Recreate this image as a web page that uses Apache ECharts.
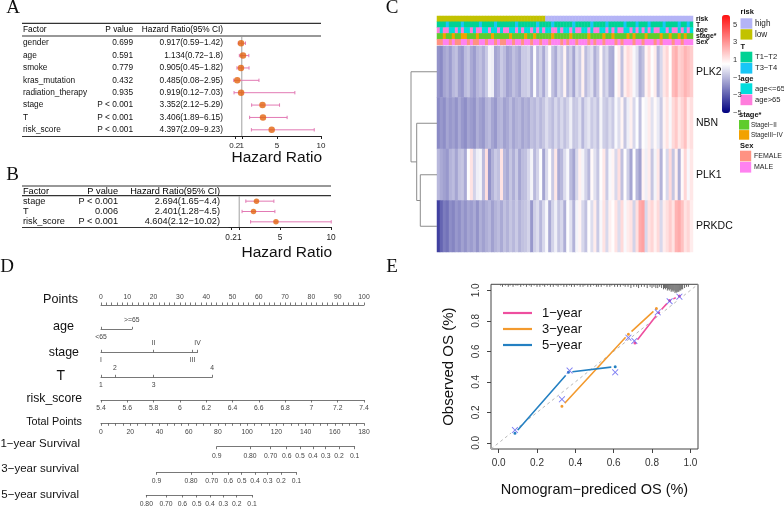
<!DOCTYPE html>
<html><head><meta charset="utf-8">
<script src="https://cdn.jsdelivr.net/npm/echarts@6.0.0/dist/echarts.min.js"></script>
<style>html,body{margin:0;padding:0;background:#fff;}#chart{width:784px;height:506px;}</style>
</head><body><div id="chart"></div>
<script>
const FONT = '"Liberation Sans", Arial, Helvetica, sans-serif';
const SERIF = '"Liberation Serif", "Times New Roman", serif';
const TXT = '#111';

// ================= DATA =================
// Panel A : univariate Cox
const factorsA = ['gender','age','smoke','kras_mutation','radiation_therapy','stage','T','risk_score'];
const pValA = ['0.699','0.591','0.779','0.432','0.935','P < 0.001','P < 0.001','P < 0.001'];
const hrA = [0.917,1.134,0.905,0.485,0.919,3.352,3.406,4.397];
const lowA = [0.59,0.72,0.45,0.08,0.12,2.12,1.89,2.09];
const highA = [1.42,1.8,1.82,2.95,7.03,5.29,6.15,9.23];
const hrTextA = ['0.917(0.59−1.42)','1.134(0.72−1.8)','0.905(0.45−1.82)','0.485(0.08−2.95)','0.919(0.12−7.03)','3.352(2.12−5.29)','3.406(1.89−6.15)','4.397(2.09−9.23)'];
// Panel B : multivariate Cox
const factorsB = ['stage','T','risk_score'];
const pValB = ['P < 0.001','0.006','P < 0.001'];
const hrB = [2.694,2.401,4.604];
const lowB = [1.65,1.28,2.12];
const highB = [4.4,4.5,10.02];
const hrTextB = ['2.694(1.65−4.4)','2.401(1.28−4.5)','4.604(2.12−10.02)'];
const hrTicks = [0.2,1,5,10];
const hrRef = 1;
const tableHeader = ['Factor','P value','Hazard Ratio(95% CI)'];

// Panel C : heatmap (columns = sample groups, left to right)
const genes = ['PLK2','NBN','PLK1','PRKDC'];
const exprPLK2 = [-1.8,-2.0,-1.4,-1.2,-1.6,-1.0,-0.8,-1.5,-1.7,-0.9,-0.7,-1.3,-1.6,-1.0,-0.8,-1.2,-0.6,0.3,0.2,-1.4,-1.2,-0.6,-0.9,-1.5,-1.3,-0.8,-1.1,-1.4,-0.6,
  -0.6,-0.4,-1.2,0.5,-1.0,-0.5,-1.3,-0.3,0.6,-0.8,-1.3,-0.3,-0.6,0.8,-1.0,-0.5,-1.4,-0.2,-0.6,0.9,-0.9,-0.4,-0.1,-1.2,-0.6,0.7,-0.7,-0.3,-1.2,
  -1.3,0.6,1.0,-0.8,0.9,1.4,1.1,0.4,-0.1,-1.2,-0.8,0.8,1.3,0.5,1.0,-1.0,-0.3,1.1,1.5,0.6,2.1,2.4,1.6,1.8,2.3,2.0,1.7];
const exprNBN = [-2.0,-1.7,-1.9,-1.4,-1.7,-1.5,-1.8,-1.3,-1.7,-1.9,-1.4,-1.6,-1.8,-1.2,-1.5,-1.7,-1.1,-0.9,-1.4,-1.7,-1.1,-1.0,-1.5,-1.3,-0.9,-1.4,-1.1,-1.0,-1.4,
  -1.1,-1.3,-0.8,-1.0,-0.6,-1.0,-0.7,-0.2,-0.6,-0.9,-0.3,-0.8,-0.3,-0.8,-0.4,0.2,-0.7,-0.6,-0.1,-1.0,-0.3,0.0,-0.6,-0.3,-0.8,0.3,-0.5,-0.7,-0.2,
  -0.6,0.4,-0.2,0.8,-0.7,0.2,0.9,-0.3,0.5,-0.8,0.6,0.3,1.0,-0.1,0.7,0.1,-0.6,0.8,1.2,0.4,1.4,1.8,1.1,1.5,2.0,1.0,1.3];
const exprPLK1 = [-1.0,-1.3,-1.5,-1.7,-1.1,-0.9,-1.4,-0.8,-0.7,-1.3,0.5,1.2,-0.4,0.2,0.3,-0.9,1.3,-1.8,-1.1,-0.6,-0.8,1.2,-1.0,-1.3,-0.7,-1.2,-0.6,-1.4,-0.9,
  -0.8,-0.3,0.3,-1.0,-0.4,0.5,-1.4,-0.3,0.6,-0.6,1.1,-1.3,-1.0,-0.2,0.4,-0.9,-1.4,-0.3,0.9,0.3,-0.4,-1.0,0.7,-0.1,-0.7,0.5,1.1,-0.6,0.4,
  0.8,-0.3,1.3,-0.8,0.6,-0.5,-1.4,0.5,-1.0,-1.5,0.8,0.2,1.0,-0.7,0.3,1.1,-1.1,0.6,-0.3,1.4,-0.7,0.9,-1.2,0.7,1.5,0.4,1.1];
const exprPRKDC = [-3.6,-2.8,-2.3,-2.5,-1.9,-2.1,-1.7,-1.9,-1.5,-1.8,-1.4,-1.6,-1.3,-1.8,-1.2,-1.5,-1.2,-1.0,-1.5,-1.1,-0.9,-1.3,-0.8,-1.1,-0.7,-1.0,-0.6,-1.1,-0.8,
  -0.7,-0.4,-1.7,-0.5,-0.2,-1.0,-0.3,0.4,-1.3,-0.4,0.2,-0.7,-0.3,-1.2,0.5,-0.1,-1.1,0.3,0.8,-0.3,-0.8,0.6,-0.2,1.0,-0.6,0.4,1.2,-0.3,0.9,
  0.6,1.2,-0.2,1.4,0.4,1.0,1.2,-0.4,1.3,2.5,2.7,-0.3,1.2,1.5,0.9,1.4,-0.3,1.0,1.3,1.7,1.2,2.3,2.5,2.0,1.2,1.5,1.0];
// annotation tracks (codes index into the level arrays)
const annoTracks = ['risk','T','age','stage*','Sex'];
const riskLevels = ['high','low'];
const tLevels = ['T1−T2','T3−T4'];
const ageLevels = ['age<=65','age>65'];
const stageLevels = ['StageI−II','StageIII−IV'];
const sexLevels = ['FEMALE','MALE'];
const annoRisk = [1,1,1,1,1,1,1,1,1,1,1,1,1,1,1,1,1,
  1,1,1,1,1,1,1,1,1,1,1,1,1,1,1,1,1,1,1,0,
  0,0,0,0,0,0,0,0,0,0,0,0,0,0,0,0,0,0,0,0,
  0,0,0,0,0,0,0,0,0,0,0,0,0,0,0,0,0,0,0,0,
  0,0,0,0,0,0,0,0,0,0,0,0];
const annoT = [0,0,0,1,0,0,0,0,1,0,0,0,0,0,1,0,0,
  0,0,1,0,0,0,0,0,0,1,0,0,0,0,0,0,1,
  0,0,0,0,1,0,0,0,0,0,0,1,0,0,0,0,0,
  1,0,0,0,0,1,0,0,0,0,0,1,0,0,0,1,0,
  0,0,1,0,0,0,0,1,0,0,0,0,1,0,0,1,0];
const annoAge = [1,0,1,1,0,0,1,0,1,0,0,1,0,1,1,0,0,
  1,0,0,1,0,1,1,0,0,1,0,1,0,0,1,0,1,
  0,1,0,0,1,1,0,1,0,0,1,0,1,1,0,0,1,
  0,1,1,0,0,1,0,1,0,1,1,0,0,1,0,1,0,
  1,0,1,0,1,1,0,0,1,0,1,1,0,1,0,1,0];
const annoStage = [0,0,1,0,0,1,0,0,1,1,0,0,0,1,0,0,0,
  0,1,0,0,0,0,0,1,0,0,0,0,1,0,0,1,0,
  0,0,0,0,1,0,0,0,0,0,1,0,0,0,0,0,1,
  0,0,0,0,1,0,0,1,0,0,0,0,1,0,1,0,0,
  0,1,0,0,0,0,1,0,0,1,0,0,1,0,1,0,0];
const annoSex = [0,0,1,1,0,1,0,0,1,1,0,1,0,0,1,1,0,
  1,1,0,1,0,0,1,1,0,1,1,0,1,1,0,1,1,
  0,1,1,0,1,1,1,0,1,0,1,1,0,1,1,1,0,
  1,0,1,1,0,1,1,1,0,1,0,1,1,1,0,1,1,
  0,1,1,1,0,1,0,1,1,1,0,1,1,0,1,1,1];
// dendrogram merges: [left, right, height]
const dendroMerges = [['PLK1','PRKDC',16.7],['NBN','PLK1|PRKDC',20.3],['PLK2','NBN|PLK1|PRKDC',26]];
const colorbarTicks = [-5,-3,-1,1,3,5];
const colorRange = [-5,6.1];

// Panel D : nomogram
const nomoLabels = ['Points','age','stage','T','risk_score','Total Points','1−year Survival','3−year survival','5−year survival'];
const ageCats = ['<65','>=65'];          const agePts = [0,11.7];             const agePos = ['b','a'];
const stageCats = ['I','II','III','IV']; const stagePts = [0,20,34.8,36.7];   const stagePos = ['b','a','b','a'];
const tCats = ['1','2','3','4'];         const tPts = [0,5.3,20,42.3];        const tPos = ['b','a','b','a'];
const riskScoreRange = [5.4,7.4];
const totalRange = [0,180];
const surv1Labels = ['0.9','0.80','0.70','0.6','0.5','0.4','0.3','0.2','0.1'];
const surv1Tp = [79.2,102,116.1,127.1,136.2,145,153.8,162.9,173.6];
const surv3Labels = ['0.9','0.80','0.70','0.6','0.5','0.4','0.3','0.2','0.1'];
const surv3Tp = [38,61.6,75.8,87.1,96.3,105.4,114.1,123.2,133.7];
const surv5Labels = ['0.80','0.70','0.6','0.5','0.4','0.3','0.2','0.1'];
const surv5Tp = [31,44.5,55.7,65.5,74.6,83.7,92.9,103.4];

// Panel E : calibration
const cal1X = [0.711,0.835,0.892,0.943], cal1Y = [0.655,0.855,0.933,0.963];
const cal3X = [0.33,0.677,0.823],        cal3Y = [0.24,0.712,0.881];
const cal5X = [0.085,0.364,0.608],       cal5Y = [0.063,0.463,0.5];
const corrX = [0.085,0.37,0.608,0.33,0.677,0.83,0.708,0.892,0.943];
const corrY = [0.084,0.474,0.463,0.286,0.69,0.856,0.669,0.929,0.959];
const calTicks = [0,0.2,0.4,0.6,0.8,1.0];
const idealRange = [-0.04,1.04];
const rugX = [0.01,0.02,0.035,0.05,0.06,0.075,0.09,0.1,0.115,0.13,0.145,0.16,0.17,0.185,0.2,0.215,0.23,0.24,0.255,0.27,0.285,0.3,0.31,0.325,0.34,0.355,0.37,0.38,0.395,0.41,0.425,0.44,0.45,0.465,0.48,0.495,0.51,0.52,0.535,0.55,0.565,0.58,0.59,0.605,0.62,0.635,0.65,0.66,0.675,0.69,0.705,0.72,0.73,0.745,0.76,0.775,0.79,0.8,0.81,0.82,0.83,0.84,0.85,0.86,0.865,0.87,0.875,0.88,0.885,0.89,0.895,0.9,0.905,0.91,0.915,0.92,0.925,0.93,0.935,0.94,0.945,0.95,0.955,0.96,0.97,0.98,0.99];
const rugN = [1,2,1,2,1,2,1,1,2,1,2,1,2,1,2,2,1,2,1,2,2,1,2,1,2,2,1,2,2,1,2,2,1,2,2,1,2,2,2,1,2,2,1,2,2,2,1,2,2,3,2,2,3,2,2,3,2,3,2,3,3,2,3,4,3,4,3,5,4,5,4,6,5,6,5,7,6,7,6,6,5,5,4,4,3,2,2];

// ================= BUILD =================
const grid = [], xAxis = [], yAxis = [], series = [], graphic = [];
function addGrid(g){ g.outerBoundsMode = 'none'; grid.push(g); return grid.length - 1; }

// ---------- forest plots ----------
const ciColor = '#e27ab4', dotColor = '#e2640f';
function ciRender(params, api){
  const y = api.value(2);
  const a = api.coord([api.value(0), y]), b = api.coord([api.value(1), y]);
  const cap = 1.7, st = {stroke: ciColor, lineWidth: 1};
  return {type:'group', children:[
    {type:'line', shape:{x1:a[0], y1:a[1], x2:b[0], y2:b[1]}, style:st},
    {type:'line', shape:{x1:a[0], y1:a[1]-cap, x2:a[0], y2:a[1]+cap}, style:st},
    {type:'line', shape:{x1:b[0], y1:b[1]-cap, x2:b[0], y2:b[1]+cap}, style:st}]};
}
function forest(c){
  const n = c.factors.length;
  const gi = addGrid({left:c.left, top:c.top, width:c.width, height:c.height});
  const rich = {
    f:{width:c.w[0], align:'left', fontSize:c.fs, color:TXT, fontFamily:FONT},
    p:{width:c.w[1], align:'right', fontSize:c.fs, color:TXT, fontFamily:FONT},
    h:{width:c.w[2], align:'right', fontSize:c.fs, color:TXT, fontFamily:FONT}};
  const lab = {hideOverlap:false, showMinLabel:true, showMaxLabel:true, fontSize:c.tfs, color:'#222', margin:c.labMargin, fontFamily:FONT, formatter:v=>String(v)};
  // main axis: line, ticks, labels at even positions
  xAxis.push({gridIndex:gi, type:'value', min:0, max:10, position:'bottom',
    axisLine:{show:true, onZero:false, lineStyle:{color:'#222', width:1}},
    axisTick:{show:true, customValues:hrTicks, length:3, lineStyle:{color:'#222'}},
    axisLabel:Object.assign({customValues:hrTicks.filter((v,i)=>i % 2 === 0)}, lab),
    splitLine:{show:false}});
  const xi = xAxis.length-1;
  // companion axis: labels at odd positions only (avoids neighbour-overlap hiding)
  xAxis.push({gridIndex:gi, type:'value', min:0, max:10, position:'bottom',
    axisLine:{show:false, onZero:false}, axisTick:{show:false}, splitLine:{show:false},
    axisLabel:Object.assign({customValues:hrTicks.filter((v,i)=>i % 2 === 1)}, lab)});
  yAxis.push({gridIndex:gi, type:'value', min:-0.5, max:n - 0.5, inverse:true,
    axisLine:{show:false}, axisTick:{show:false}, splitLine:{show:false},
    axisLabel:{customValues:c.factors.map((_, i) => i), hideOverlap:false, showMinLabel:true, showMaxLabel:true, margin:c.margin, rich,
      formatter:v => { const i = Math.round(v); return `{f|${c.factors[i]}}{p|${c.p[i]}}{h|${c.hrText[i]}}`; }}});
  const yi = yAxis.length-1;
  series.push({type:'line', xAxisIndex:xi, yAxisIndex:yi, symbol:'none', silent:true, z:2,
    lineStyle:{color:'#a0a0a0', width:1}, data:[[hrRef, -0.5],[hrRef, n - 0.5]]});
  series.push({type:'custom', xAxisIndex:xi, yAxisIndex:yi, renderItem:ciRender, encode:{x:[0,1], y:2}, clip:false,
    data:c.lo.map((l,i)=>[l, c.hi[i], i]), z:3});
  series.push({type:'scatter', xAxisIndex:xi, yAxisIndex:yi, data:c.hr.map((h,i)=>[h,i]), symbolSize:c.dot, itemStyle:{color:dotColor}, z:4});
  graphic.push({type:'text', x:c.left - c.margin, y:c.headY, style:{text:`{f|${tableHeader[0]}}{p|${tableHeader[1]}}{h|${tableHeader[2]}}`, rich, align:'right', verticalAlign:'middle'}});
  c.rules.forEach(y=>graphic.push({type:'line', shape:{x1:22, y1:y, x2:c.left + c.width, y2:y}, style:{stroke:'#333', lineWidth:1.2}}));
  graphic.push({type:'text', x:c.left + c.width + 1, y:c.nameY, style:{text:'Hazard Ratio', fontSize:15.5, fill:TXT, fontFamily:FONT, align:'right', verticalAlign:'middle'}});
}
forest({left:233, top:37, width:88, height:99, factors:factorsA, p:pValA, hrText:hrTextA, hr:hrA, lo:lowA, hi:highA,
  w:[70,40,90], fs:8.3, tfs:8, margin:10, labMargin:5.5, nameY:158, dot:6.5, headY:30, rules:[23.3,36,136.5]});
forest({left:229, top:196, width:102, height:31, factors:factorsB, p:pValB, hrText:hrTextB, hr:hrB, lo:lowB, hi:highB,
  w:[53,42,102], fs:9.2, tfs:8.3, margin:9, labMargin:6.5, nameY:253, dot:5.5, headY:191, rules:[186,195.7,227.5]});

// ---------- panel C ----------
const sampleIds = exprPLK2.map((_, i) => 'S' + (i + 1));
const gD = addGrid({left:411, top:46, width:26, height:206});
xAxis.push({gridIndex:gD, type:'value', min:0, max:26, inverse:true, show:false});
yAxis.push({gridIndex:gD, type:'value', min:0, max:4, inverse:true, show:false});
const dxi = xAxis.length-1, dyi = yAxis.length-1;
const node = {}; genes.forEach((g,i)=> node[g] = {y:i+0.5, h:0});
dendroMerges.forEach(([a,b,h])=>{
  const A = node[a], B = node[b];
  series.push({type:'line', xAxisIndex:dxi, yAxisIndex:dyi, symbol:'none', silent:true,
    lineStyle:{color:'#8c8c8c', width:1}, data:[[A.h,A.y],[h,A.y],[h,B.y],[B.h,B.y]]});
  node[a + '|' + b] = {y:(A.y + B.y)/2, h};
});
const annoColors = [['#b4b4f6','#c2c200'],['#00d294','#18c6f6'],['#00dcdc','#ff7ddc'],['#5fcc2c','#f2a200'],['#ff9282','#ff82f0']];
const annoData = [];
[annoRisk, annoT, annoAge, annoStage, annoSex].forEach((arr, t) => arr.forEach((v, c) => annoData.push([c, t, t * 2 + v])));
const gA = addGrid({left:437, top:16, width:256, height:29});
xAxis.push({gridIndex:gA, type:'category', data:sampleIds, show:false});
yAxis.push({gridIndex:gA, type:'category', data:annoTracks, inverse:true, position:'right',
  axisLine:{show:false}, axisTick:{show:false}, splitLine:{show:false},
  axisLabel:{interval:0, margin:3, fontSize:6.8, fontWeight:'bold', color:TXT, fontFamily:FONT}});
const annoIndex = series.length;
series.push({type:'heatmap', xAxisIndex:xAxis.length-1, yAxisIndex:yAxis.length-1, data:annoData, progressive:0,
  itemStyle:{borderWidth:0}, emphasis:{disabled:true}});
[21.8, 27.6, 33.4, 39.2].forEach(y => graphic.push({type:'line', shape:{x1:437, y1:y, x2:693, y2:y}, style:{stroke:'#fff', lineWidth:0.8}}));
const gH = addGrid({left:437, top:46, width:256, height:206});
xAxis.push({gridIndex:gH, type:'category', data:sampleIds, show:false});
yAxis.push({gridIndex:gH, type:'category', data:genes, inverse:true, position:'right',
  axisLine:{show:false}, axisTick:{show:false}, splitLine:{show:false},
  axisLabel:{interval:0, margin:3, fontSize:10.5, color:TXT, fontFamily:FONT}});
const heatData = [];
[exprPLK2, exprNBN, exprPLK1, exprPRKDC].forEach((row, r) => row.forEach((v, c) => heatData.push([c, r, v])));
const heatIndex = series.length;
series.push({type:'heatmap', xAxisIndex:xAxis.length-1, yAxisIndex:yAxis.length-1, data:heatData, progressive:0,
  itemStyle:{borderWidth:0}, emphasis:{disabled:true}});
const gCB = addGrid({left:722, top:15, width:8, height:98});
xAxis.push({gridIndex:gCB, type:'value', show:false, min:0, max:1});
yAxis.push({gridIndex:gCB, type:'value', min:colorRange[0], max:colorRange[1], position:'right',
  axisLine:{show:false}, axisTick:{show:false}, splitLine:{show:false},
  axisLabel:{customValues:colorbarTicks, fontSize:7.5, color:'#333', margin:3, fontFamily:FONT,
    formatter:v => (v < 0 ? '−' : '') + Math.abs(v)}});
const legendC = [
  {title:'risk', labels:riskLevels, cols:annoColors[0], ty:11.7, top:18.3, h:10.4, fs:8.2, sx:740.5, sw:11.8, tx:755},
  {title:'T', labels:tLevels, cols:annoColors[1], ty:46.7, top:51.7, h:10.7, fs:7.6, sx:740.5, sw:11.8, tx:755},
  {title:'age', labels:ageLevels, cols:annoColors[2], ty:79, top:83.3, h:10.7, fs:7.6, sx:740.5, sw:11.8, tx:755},
  {title:'stage*', labels:stageLevels, cols:annoColors[3], ty:115, top:120, h:9.6, fs:6.4, sx:739, sw:10.2, tx:751},
  {title:'Sex', labels:sexLevels, cols:annoColors[4], ty:145.5, top:150.7, h:10.7, fs:7, sx:740, sw:11.2, tx:754}];
legendC.forEach(g=>{
  graphic.push({type:'text', x:g.sx, y:g.ty, style:{text:g.title, fontSize:7.5, fontWeight:'bold', fill:TXT, fontFamily:FONT, verticalAlign:'middle'}});
  g.labels.forEach((lab, i)=>{
    const y0 = g.top + i * (g.h + 0.5);
    graphic.push({type:'rect', shape:{x:g.sx, y:y0, width:g.sw, height:g.h}, style:{fill:g.cols[i]}});
    graphic.push({type:'text', x:g.tx, y:y0 + g.h/2, style:{text:lab, fontSize:g.fs, fill:'#222', fontFamily:FONT, verticalAlign:'middle'}});
  });
});

// ---------- panel D : nomogram ----------
const NX0 = 101, ptsScale = 263/100, totScale = 263/180;
const nomoLine = {color:'#555', width:0.8};
function nomoGrid(axisY, left, width, isTop){
  const gi = addGrid({left, top: isTop ? axisY : axisY - 1, width, height:1});
  yAxis.push({gridIndex:gi, type:'value', min:0, max:1, show:false});
  return gi;
}
function nomoAxis(gi, pos, min, max, o){
  o = o || {};
  const ax = {gridIndex:gi, type:'value', position:pos, min, max,
    axisLine:Object.assign({show:true, onZero:false, lineStyle:nomoLine}, o.axisLine),
    axisTick:Object.assign({show:true, length:2.5, lineStyle:nomoLine}, o.axisTick),
    minorTick:o.minorTick || {show:false},
    axisLabel:Object.assign({fontSize:6.8, color:'#444', margin:4.5, fontFamily:FONT, hideOverlap:false, showMinLabel:true, showMaxLabel:true}, o.axisLabel),
    splitLine:{show:false}, minorSplitLine:{show:false}};
  if (o.interval != null) ax.interval = o.interval;
  return ax;
}
let gi = nomoGrid(305, NX0, 100 * ptsScale, true);
xAxis.push(nomoAxis(gi, 'top', 0, 100, {interval:10, minorTick:{show:true, splitNumber:5, length:2.5, lineStyle:nomoLine}}));
function catRow(axisY, cats, pts, pos){
  const max = Math.max(...pts);
  const g = nomoGrid(axisY, NX0, max * ptsScale, true);
  const fmt = v => cats[pts.findIndex(p => Math.abs(p - v) < 1e-6)];
  xAxis.push(nomoAxis(g, 'top', 0, max, {axisTick:{customValues:pts}, axisLabel:{customValues:pts.filter((p,i)=>pos[i]==='a'), formatter:fmt, margin:5.3}}));
  xAxis.push(nomoAxis(g, 'bottom', 0, max, {axisLine:{show:false}, axisTick:{show:false}, axisLabel:{customValues:pts.filter((p,i)=>pos[i]==='b'), formatter:fmt, margin:3.2}}));
}
catRow(329.3, ageCats, agePts, agePos);
catRow(352.3, stageCats, stagePts, stagePos);
catRow(377.3, tCats, tPts, tPos);
gi = nomoGrid(400, NX0, 263, false);
xAxis.push(nomoAxis(gi, 'bottom', riskScoreRange[0], riskScoreRange[1], {interval:0.2}));
gi = nomoGrid(423.3, NX0, 263, false);
xAxis.push(nomoAxis(gi, 'bottom', totalRange[0], totalRange[1], {interval:20, minorTick:{show:true, splitNumber:4, length:2.5, lineStyle:nomoLine}, axisLabel:{margin:5.5}}));
function survRow(axisY, tp, labels){
  const lo = tp[0], hi = tp[tp.length-1];
  const g = nomoGrid(axisY, NX0 + lo * totScale, (hi - lo) * totScale, false);
  xAxis.push(nomoAxis(g, 'bottom', lo, hi, {axisTick:{customValues:tp},
    axisLabel:{customValues:tp, margin:5.5, formatter:v => labels[tp.findIndex(p => Math.abs(p - v) < 1e-6)]}}));
}
survRow(446.7, surv1Tp, surv1Labels);
survRow(472.3, surv3Tp, surv3Labels);
survRow(495, surv5Tp, surv5Labels);
const nomoLabelLayout = [[78,300,12.6],[74,326.5,12.6],[79,352.5,12.4],[65,376,14],[82,399,12.2],[82,421.7,10.8],[80,443.5,11.5],[79,469,11.5],[79,495,11.5]];
nomoLabels.forEach((t,i)=>{
  const [x,y,fs] = nomoLabelLayout[i];
  graphic.push({type:'text', x, y, style:{text:t, fontSize:fs, fill:TXT, fontFamily:FONT, align:'right', verticalAlign:'middle'}});
});

// ---------- panel E : calibration ----------
const gE = addGrid({left:491, top:284.3, width:207, height:164.7, show:true, borderColor:'#444', borderWidth:1});
xAxis.push({gridIndex:gE, type:'value', min:idealRange[0], max:idealRange[1],
  axisLine:{show:false, onZero:false}, splitLine:{show:false},
  axisTick:{show:true, customValues:calTicks, length:4, lineStyle:{color:'#444'}},
  axisLabel:{customValues:calTicks, fontSize:10, color:'#333', margin:9, fontFamily:FONT, formatter:v=>v.toFixed(1)},
  name:'Nomogram−prediced OS (%)', nameLocation:'middle', nameGap:33,
  nameTextStyle:{fontSize:14.5, color:TXT, fontFamily:FONT}});
yAxis.push({gridIndex:gE, type:'value', min:idealRange[0], max:idealRange[1],
  axisLine:{show:false, onZero:false}, splitLine:{show:false},
  axisTick:{show:true, customValues:calTicks, length:4, lineStyle:{color:'#444'}},
  axisLabel:{customValues:calTicks, fontSize:10, color:'#333', margin:10, rotate:90, fontFamily:FONT, formatter:v=>v.toFixed(1)},
  name:'Observed OS (%)', nameLocation:'middle', nameGap:35,
  nameTextStyle:{fontSize:15, color:TXT, fontFamily:FONT}});
const exi = xAxis.length-1, eyi = yAxis.length-1;
series.push({type:'line', xAxisIndex:exi, yAxisIndex:eyi, symbol:'none', silent:true, z:1,
  lineStyle:{color:'#b8b8b8', width:1, type:[3,3]}, data:idealRange.map(v=>[v,v])});
series.push({type:'custom', xAxisIndex:exi, yAxisIndex:eyi, silent:true, clip:false, encode:{x:0, y:1},
  data:rugX.map((x,i)=>[x, rugN[i]]),
  renderItem(params, api){
    const p = api.coord([api.value(0), idealRange[1]]);
    return {type:'line', shape:{x1:p[0], y1:p[1], x2:p[0], y2:p[1] + api.value(1) * 1.25}, style:{stroke:'#555', lineWidth:0.9}};
  }});
const calSeries = [['1−year', cal1X, cal1Y, '#ee4f9f'], ['3−year', cal3X, cal3Y, '#f39a2e'], ['5−year', cal5X, cal5Y, '#2480c2']];
calSeries.forEach(([name, xs, ys, col])=>{
  series.push({type:'line', name, xAxisIndex:exi, yAxisIndex:eyi, z:3, symbol:'circle', symbolSize:5.5,
    itemStyle:{color:col, borderColor:'#fff', borderWidth:2.5}, lineStyle:{color:col, width:1.6},
    data:xs.map((x,i)=>[x, ys[i]])});
});
series.push({type:'scatter', xAxisIndex:exi, yAxisIndex:eyi, z:5, symbolSize:6.5,
  symbol:'path://M0,1 L1,0 L5,4 L9,0 L10,1 L6,5 L10,9 L9,10 L5,6 L1,10 L0,9 L4,5 Z',
  itemStyle:{color:'#5d5df0'}, data:corrX.map((x,i)=>[x, corrY[i]])});

// ---------- panel letters ----------
[['A',13,8.5],['B',12.5,175],['C',392,8],['D',7,267.5],['E',392,267.5]].forEach(([t,x,y])=>{
  graphic.push({type:'text', x, y, style:{text:t, fontSize:19, fill:'#111', fontFamily:SERIF, align:'center', verticalAlign:'middle'}});
});

const annoPieces = [];
annoColors.forEach((pair, t) => pair.forEach((col, k) => annoPieces.push({value:t * 2 + k, color:col})));
const option = {
  animation:false,
  textStyle:{fontFamily:FONT},
  grid, xAxis, yAxis, series, graphic,
  visualMap:[
    {type:'continuous', min:colorRange[0], max:colorRange[1], seriesIndex:heatIndex, dimension:2, calculable:false, show:true,
     orient:'vertical', left:722, top:15, itemWidth:8, itemHeight:98, padding:0, showLabel:false,
     inRange:{color:['#000080','#ffffff','#ff1010']}, hoverLink:false},
    {type:'piecewise', seriesIndex:annoIndex, dimension:2, show:false, pieces:annoPieces}],
  legend:{data:['1−year','3−year','5−year'], orient:'vertical', left:498, top:301, icon:'rect', itemWidth:29, itemHeight:2.2, itemGap:2,
    selectedMode:false, itemStyle:{borderWidth:0},
    textStyle:{fontSize:13, color:TXT, fontFamily:FONT, lineHeight:14, padding:[0,0,0,5]}}
};
const chart = echarts.init(document.getElementById('chart'));
chart.setOption(option);
</script></body></html>
